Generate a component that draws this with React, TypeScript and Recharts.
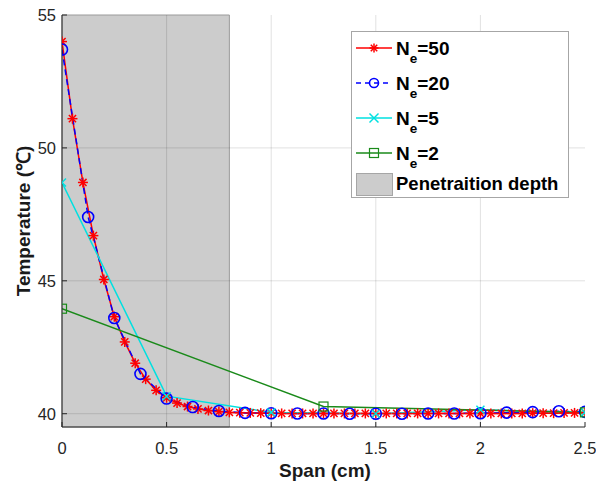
import React from 'react'
import {
  LineChart,
  Line,
  XAxis,
  YAxis,
  ReferenceArea,
  ReferenceLine,
  Legend,
  Label,
} from 'recharts'

const FONT = '"Liberation Sans", Arial, Helvetica, sans-serif'
const AXIS = '#262626'

// span positions (cm) for each mesh, temperature (°C)
const spanNe50 = [
  0, 0.05, 0.1, 0.15, 0.2, 0.25, 0.3, 0.35, 0.4, 0.45, 0.5, 0.55, 0.6, 0.65, 0.7, 0.75, 0.8, 0.85,
  0.9, 0.95, 1, 1.05, 1.1, 1.15, 1.2, 1.25, 1.3, 1.35, 1.4, 1.45, 1.5, 1.55, 1.6, 1.65, 1.7, 1.75,
  1.8, 1.85, 1.9, 1.95, 2, 2.05, 2.1, 2.15, 2.2, 2.25, 2.3, 2.35, 2.4, 2.45, 2.5,
]
const tempNe50 = [
  54.0, 51.1, 48.7, 46.7, 45.05, 43.65, 42.7, 41.9, 41.3, 40.88, 40.6, 40.4, 40.27, 40.18, 40.12,
  40.08, 40.05, 40.04, 40.03, 40.02, 40.02, 40.01, 40.01, 40.01, 40.01, 40.01, 40.01, 40.01, 40.01,
  40.01, 40.01, 40.01, 40.01, 40.01, 40.01, 40.01, 40.01, 40.01, 40.01, 40.01, 40.01, 40.01, 40.01,
  40.01, 40.01, 40.02, 40.02, 40.02, 40.03, 40.03, 40.04,
]

const spanNe20 = [
  0, 0.125, 0.25, 0.375, 0.5, 0.625, 0.75, 0.875, 1, 1.125, 1.25, 1.375, 1.5, 1.625, 1.75, 1.875, 2,
  2.125, 2.25, 2.375, 2.5,
]
const tempNe20 = [
  53.7, 47.4, 43.6, 41.5, 40.57, 40.25, 40.1, 40.03, 40.02, 40.01, 40.01, 40.0, 40.0, 40.0, 40.01,
  40.01, 40.02, 40.04, 40.06, 40.09, 40.07,
]

const spanNe5 = [0, 0.5, 1, 1.5, 2, 2.5]
const tempNe5 = [48.7, 40.66, 40.05, 40.0, 40.15, 40.05]

const spanNe2 = [0, 1.25, 2.5]
const tempNe2 = [43.95, 40.27, 40.05]

const depth = [0, 0.8]

const xTicks = [0, 0.5, 1, 1.5, 2, 2.5]
const yTicks = [40, 45, 50, 55]
const xGrid = [0.5, 1, 1.5, 2]
const yGrid = [40, 45, 50]

const zip = (xs: number[], ys: number[]) => xs.map((x, i) => ({ x, t: ys[i] }))
const d50 = zip(spanNe50, tempNe50)
const d20 = zip(spanNe20, tempNe20)
const d5 = zip(spanNe5, tempNe5)
const d2 = zip(spanNe2, tempNe2)

/* marker shapes (MATLAB '*', 'o', 'x', 's'); size via `s` since recharts passes its own r */
const Star = ({ cx, cy, s = 5, color = 'red' }: any) => {
  if (cx == null || cy == null) return null
  const d = s * 0.72
  return (
    <g stroke={color} strokeWidth={1.5}>
      <line x1={cx - s} y1={cy} x2={cx + s} y2={cy} />
      <line x1={cx} y1={cy - s} x2={cx} y2={cy + s} />
      <line x1={cx - d} y1={cy - d} x2={cx + d} y2={cy + d} />
      <line x1={cx - d} y1={cy + d} x2={cx + d} y2={cy - d} />
    </g>
  )
}
const Ring = ({ cx, cy, s = 5.5, color = '#0000ff' }: any) =>
  cx == null ? null : <circle cx={cx} cy={cy} r={s} fill="none" stroke={color} strokeWidth={1.6} />
const Cross = ({ cx, cy, s = 4, color = '#00e0e0' }: any) =>
  cx == null ? null : (
    <g stroke={color} strokeWidth={1.5}>
      <line x1={cx - s} y1={cy - s} x2={cx + s} y2={cy + s} />
      <line x1={cx - s} y1={cy + s} x2={cx + s} y2={cy - s} />
    </g>
  )
const Square = ({ cx, cy, s = 4.5, color = '#1a8a1a' }: any) =>
  cx == null ? null : (
    <rect x={cx - s} y={cy - s} width={s * 2} height={s * 2} fill="none" stroke={color} strokeWidth={1.2} />
  )

const BottomTick = ({ x, y, payload }: any) => (
  <g>
    <line x1={x} y1={y} x2={x} y2={y - 5} stroke={AXIS} strokeWidth={1} />
    <text x={x} y={y + 27} textAnchor="middle" fontSize={16.5} fill={AXIS} fontFamily={FONT}>
      {payload.value}
    </text>
  </g>
)
const TopTick = ({ x, y }: any) => <line x1={x} y1={y} x2={x} y2={y + 5} stroke={AXIS} strokeWidth={1} />
const LeftTick = ({ x, y, payload }: any) => (
  <g>
    <line x1={x} y1={y} x2={x + 5} y2={y} stroke={AXIS} strokeWidth={1} />
    <text x={x - 6} y={y + 6} textAnchor="end" fontSize={16.5} fill={AXIS} fontFamily={FONT}>
      {payload.value}
    </text>
  </g>
)
const RightTick = ({ x, y }: any) => <line x1={x} y1={y} x2={x - 5} y2={y} stroke={AXIS} strokeWidth={1} />

const legendRows = [
  { sub: '=50', color: 'red', dash: undefined, Mark: Star },
  { sub: '=20', color: '#0000ff', dash: '5 4', Mark: Ring },
  { sub: '=5', color: '#00e0e0', dash: undefined, Mark: Cross },
  { sub: '=2', color: '#1a8a1a', dash: undefined, Mark: Square },
]

const renderLegend = () => (
  <svg width={218} height={167} style={{ display: 'block' }}>
    <rect x={0.5} y={0.5} width={217} height={166} fill="#fff" stroke="#a6a6a6" />
    {legendRows.map((r, i) => {
      const cy = 17 + i * 35
      return (
        <g key={i}>
          <line x1={5} y1={cy} x2={41} y2={cy} stroke={r.color} strokeWidth={1.5} strokeDasharray={r.dash} />
          <r.Mark cx={23} cy={cy} color={r.color} s={4.5} />
          <text x={45} y={cy + 7} fontSize={19} fontWeight="bold" fill="#000" fontFamily={FONT}>
            N
            <tspan dy={8} fontSize={13.5}>e</tspan>
            <tspan dy={-8}>{r.sub}</tspan>
          </text>
        </g>
      )
    })}
    <rect x={5.5} y={142.5} width={36} height={22} fill="#cccccc" stroke="#a6a6a6" />
    <text x={45} y={159} fontSize={18.5} fontWeight="bold" fill="#000" fontFamily={FONT}>
      Penetraition depth
    </text>
  </svg>
)

export default function App() {
  return (
    <div style={{ position: 'absolute', left: 0, top: 0, width: 596, height: 483, background: '#fff' }}>
      <LineChart
        width={596}
        height={483}
        margin={{ top: 15, right: 11, bottom: 26, left: 12 }}
        style={{ fontFamily: FONT }}
      >
        <XAxis
          dataKey="x"
          type="number"
          domain={[0, 2.5]}
          ticks={xTicks}
          tickSize={0}
          tickMargin={0}
          tick={<BottomTick />}
          tickLine={false}
          axisLine={{ stroke: AXIS }}
          height={30}
          allowDataOverflow
        >
          <Label
            content={() => (
              <text x={325} y={477} textAnchor="middle" fontSize={19} fontWeight="bold" fill="#1a1a1a" fontFamily={FONT}>
                Span (cm)
              </text>
            )}
          />
        </XAxis>
        <XAxis
          xAxisId="top"
          orientation="top"
          dataKey="x"
          type="number"
          domain={[0, 2.5]}
          ticks={xTicks}
          tickSize={0}
          tickMargin={0}
          tick={<TopTick />}
          tickLine={false}
          axisLine={{ stroke: AXIS }}
          height={0}
        />
        <YAxis
          type="number"
          domain={[39.5, 55]}
          ticks={yTicks}
          tickSize={0}
          tickMargin={0}
          tick={<LeftTick />}
          tickLine={false}
          axisLine={{ stroke: AXIS }}
          width={50}
          allowDataOverflow
        >
          <Label
            content={() => (
              <text
                x={0}
                y={0}
                transform="translate(30 221) rotate(-90)"
                textAnchor="middle"
                fontSize={19}
                fontWeight="bold"
                fill="#1a1a1a"
                fontFamily={FONT}
              >
                Temperature (℃)
              </text>
            )}
          />
        </YAxis>
        <YAxis
          yAxisId="right"
          orientation="right"
          type="number"
          domain={[39.5, 55]}
          ticks={yTicks}
          tickSize={0}
          tickMargin={0}
          tick={<RightTick />}
          tickLine={false}
          axisLine={{ stroke: AXIS }}
          width={0}
        />
        <ReferenceArea x1={depth[0]} x2={depth[1]} fill="#cccccc" fillOpacity={1} stroke="#9a9a9a" strokeWidth={1} />
        {xGrid.map((v) => (
          <ReferenceLine key={'x' + v} x={v} stroke="#000" strokeOpacity={0.12} />
        ))}
        {yGrid.map((v) => (
          <ReferenceLine key={'y' + v} y={v} stroke="#000" strokeOpacity={0.12} />
        ))}
        <Line
          data={d50}
          dataKey="t"
          stroke="red"
          strokeWidth={1.5}
          dot={<Star />}
          activeDot={false}
          isAnimationActive={false}
        />
        <Line
          data={d20}
          dataKey="t"
          stroke="#0000ff"
          strokeWidth={1.5}
          strokeDasharray="6 4"
          dot={<Ring />}
          activeDot={false}
          isAnimationActive={false}
        />
        <Line
          data={d5}
          dataKey="t"
          stroke="#00e0e0"
          strokeWidth={1.5}
          dot={<Cross />}
          activeDot={false}
          isAnimationActive={false}
        />
        <Line
          data={d2}
          dataKey="t"
          stroke="#1a8a1a"
          strokeWidth={1.5}
          dot={<Square />}
          activeDot={false}
          isAnimationActive={false}
        />
        <Legend
          layout="horizontal"
          verticalAlign="middle"
          align="center"
          content={renderLegend}
          wrapperStyle={{ left: 351, top: 31, right: 'auto', width: 218 }}
        />
      </LineChart>
    </div>
  )
}
